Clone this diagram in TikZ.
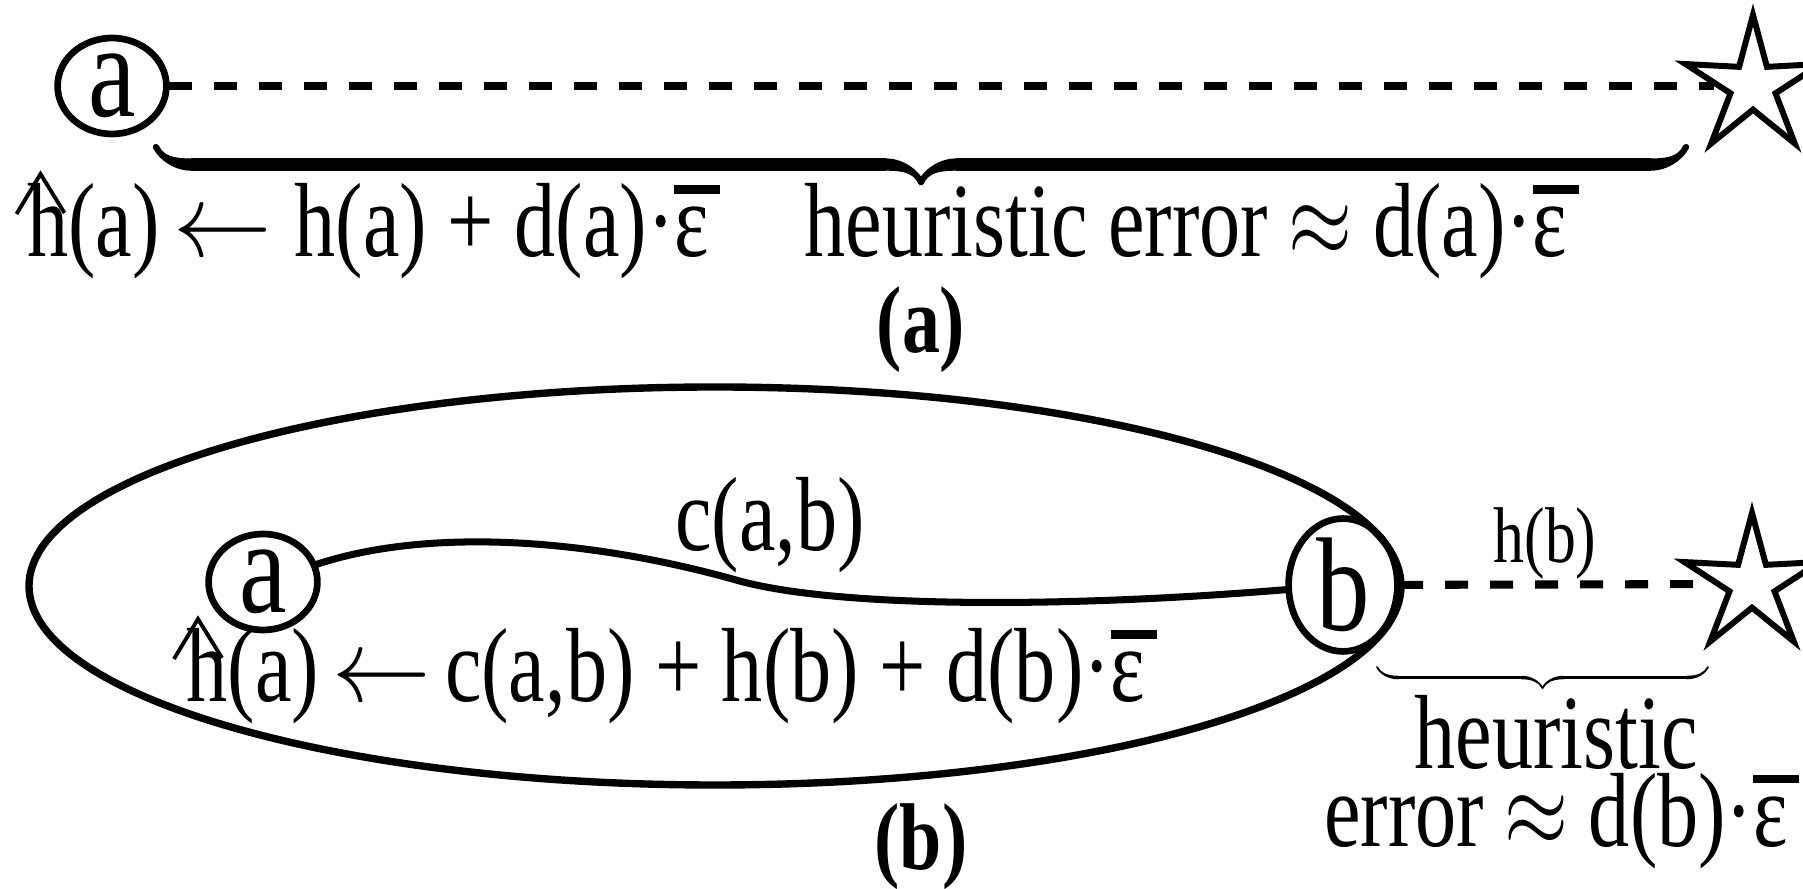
\documentclass[tikz,border=0pt]{standalone}
\usepackage{fix-cm}
\usepackage{fontspec}
\setmainfont{Liberation Serif}
\usepackage{tikz}
\usetikzlibrary{shapes.geometric}
\usetikzlibrary{decorations.pathreplacing,calligraphy}

\newcommand{\epsbar}{\makebox[0pt][l]{\raisebox{0.6em}{\rule{0.56em}{0.08em}}}ε}
\newcommand{\getsarrow}{\scalebox{1.2}[1]{$\leftarrow$}}

\begin{document}
\begin{tikzpicture}[
		vtx/.style={draw, ellipse, line width=1.9pt, inner sep=0pt, xscale=0.8, minimum width=1.36cm, minimum height=0.96cm, font=\fontsize{38}{38}\selectfont},
		goal/.style={draw, star, star points=5, star point ratio=3, line width=1.7pt, inner sep=0pt, minimum size=1.42cm},
		lbl/.style={inner sep=0pt, xscale=0.78, font=\fontsize{30}{30}\selectfont},
		sublbl/.style={inner sep=0pt, xscale=0.8, font=\fontsize{27}{27}\selectfont\bfseries},
		hdash/.style={line width=2.3pt, dash pattern=on 0.23cm off 0.22cm},
		hatline/.style={line width=1.1pt, line join=miter},
	]
			\useasboundingbox (0,0) rectangle (18.03,8.89);
			\node[vtx] (aTop) at (1.12,8.03) {a};
			\node[goal] (sTop) at (17.53,8.03) {};
			\draw[hdash] (aTop) -- (sTop);
			\coordinate (brTopL) at (1.56,7.42);
			\coordinate (brTopR) at (16.86,7.42);
			\draw[decorate, decoration={calligraphic brace, amplitude=10pt}, line width=3.5pt] (brTopR) -- (brTopL);
			\node[lbl, anchor=base] (updTop) at (3.68,6.32) {h(a)\,\getsarrow\;h(a) + d(a)·\epsbar};
			\draw[hatline] ([shift={(-0.10,0.43)}]updTop.base west) -- ([shift={(0.14,0.83)}]updTop.base west) -- ([shift={(0.38,0.44)}]updTop.base west);
			\node[lbl, anchor=base] (errTop) at (11.86,6.32) {heuristic error $\approx$ d(a)·\epsbar};
			\node[sublbl] (capA) at (9.21,5.59) {(a)};

			\draw[line width=2.1pt] (7.15,3.03) ellipse (6.86 and 1.99);
			\node[vtx] (aBot) at (2.63,3.07) {a};
			\node[vtx] (bBot) at (13.43,3.04) {b};
			\node[goal] (sBot) at (17.52,3.05) {};
			\draw[line width=2pt] (aBot) .. controls (4.3,3.62) and (5.9,3.5) .. (7.36,3.09) .. controls (8.3,2.82) and (10.5,2.8) .. (bBot);
			\node[lbl] (cost) at (7.70,3.64) {c(a,b)};
			\draw[hdash] (bBot) -- (sBot);
			\node[lbl, font=\fontsize{22.5}{22.5}\selectfont] (hB) at (15.45,3.46) {h(b)};
			\coordinate (brBotL) at (13.77,2.22);
			\coordinate (brBotR) at (17.08,2.22);
			\draw[decorate, decoration={calligraphic brace, amplitude=6pt}, line width=1pt] (brBotR) -- (brBotL);
			\node[lbl, align=center, font=\fontsize{30}{22.2}\selectfont] (errBot) at (15.56,1.07) {heuristic\\error $\approx$ d(b)·\epsbar};
			\node[lbl, anchor=base] (updBot) at (6.66,1.87) {h(a)\,\getsarrow\,c(a,b) + h(b) + d(b)·\epsbar};
			\draw[hatline] ([shift={(-0.12,0.43)}]updBot.base west) -- ([shift={(0.12,0.83)}]updBot.base west) -- ([shift={(0.36,0.44)}]updBot.base west);
			\node[sublbl] (capB) at (9.21,0.42) {(b)};
		\end{tikzpicture}
\end{document}
